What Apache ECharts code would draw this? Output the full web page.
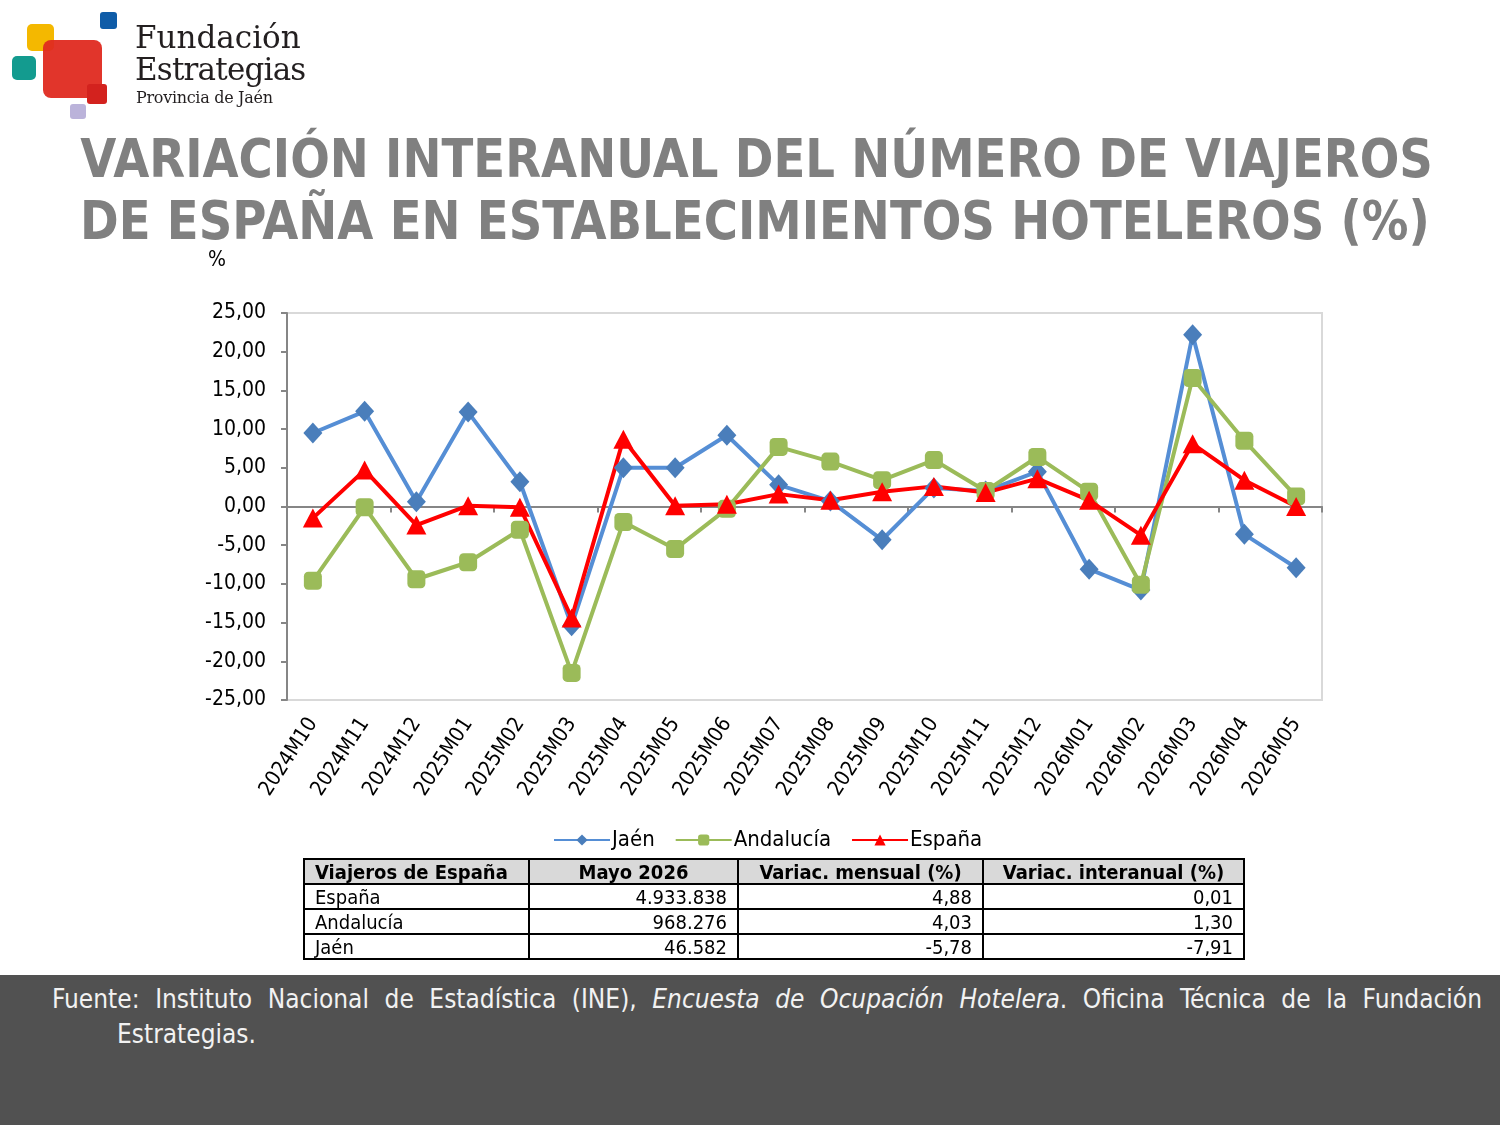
<!DOCTYPE html>
<html>
<head>
<meta charset="utf-8">
<script src="https://cdn.jsdelivr.net/npm/echarts@6/dist/echarts.min.js"></script>
<style>
  html, body { margin: 0; padding: 0; background: #fff; }
  body { width: 1500px; height: 1125px; position: relative; overflow: hidden; font-family: "DejaVu Sans Condensed", "Liberation Sans", sans-serif; }
  #chart { position: absolute; left: 0; top: 0; width: 1500px; height: 870px; }
  .sq { position: absolute; border-radius: 5px; }
  .logo-t { position: absolute; font-family: "DejaVu Serif", "Liberation Serif", serif; color: #231f20; white-space: nowrap; }
  #title { position: absolute; left: -12px; top: 128px; width: 1512px; text-align: center; font-family: "DejaVu Sans", Verdana, sans-serif; font-weight: bold; font-size: 53px; line-height: 62px; color: #808080; }
  #title span { display: inline-block; transform: scaleX(0.88); transform-origin: center; white-space: nowrap; }
  #pct { position: absolute; left: 208px; top: 247px; font-size: 21px; color: #000; }
  #tbl { position: absolute; left: 303px; top: 858px; border-collapse: collapse; font-size: 20px; table-layout: fixed; width: 940px; }
  #tbl td, #tbl th { border: 2px solid #000; padding: 0 10px; height: 23px; line-height: 22px; white-space: nowrap; overflow: hidden; }
  #tbl th { background: #d9d9d9; font-weight: bold; }
  #tbl td.n { text-align: right; }
  #foot { position: absolute; left: 0; top: 975px; width: 1500px; height: 150px; background: #515151; color: #f2f2f2; font-size: 26px; }
  #foot .l1 { position: absolute; left: 52px; width: 1430px; top: 9px; text-align: justify; text-align-last: justify; white-space: nowrap; }
  #foot .l2 { position: absolute; left: 117px; top: 44px; }
</style>
</head>
<body>
<div id="chart"></div>

<!-- logo -->
<div class="sq" style="left:100px;top:12px;width:17px;height:17px;background:#0f5ca8;border-radius:3px"></div>
<div class="sq" style="left:27px;top:24px;width:27px;height:27px;background:#f4b800"></div>
<div class="sq" style="left:12px;top:56px;width:24px;height:24px;background:#139b8f"></div>
<div class="sq" style="left:43px;top:40px;width:59px;height:58px;background:#df2a20;opacity:0.95;border-radius:8px"></div>
<div class="sq" style="left:87px;top:84px;width:20px;height:20px;background:#d3221e;border-radius:3px"></div>
<div class="sq" style="left:70px;top:104px;width:16px;height:15px;background:#bbb3da;border-radius:3px"></div>
<div class="logo-t" style="left:135px;top:19px;font-size:31px">Fundación</div>
<div class="logo-t" style="left:135px;top:51px;font-size:31px;letter-spacing:-0.8px">Estrategias</div>
<div class="logo-t" style="left:136px;top:88px;font-size:16px;letter-spacing:-0.3px">Provincia de Jaén</div>

<div id="title"><span>VARIACIÓN INTERANUAL DEL NÚMERO DE VIAJEROS</span><br><span>DE ESPAÑA EN ESTABLECIMIENTOS HOTELEROS (%)</span></div>
<div id="pct">%</div>

<table id="tbl">
  <colgroup><col style="width:225px"><col style="width:209px"><col style="width:245px"><col style="width:261px"></colgroup>
  <tr><th style="text-align:left">Viajeros de España</th><th>Mayo 2026</th><th>Variac. mensual (%)</th><th>Variac. interanual (%)</th></tr>
  <tr><td>España</td><td class="n">4.933.838</td><td class="n">4,88</td><td class="n">0,01</td></tr>
  <tr><td>Andalucía</td><td class="n">968.276</td><td class="n">4,03</td><td class="n">1,30</td></tr>
  <tr><td>Jaén</td><td class="n">46.582</td><td class="n">-5,78</td><td class="n">-7,91</td></tr>
</table>

<div id="foot">
  <div class="l1">Fuente: Instituto Nacional de Estadística (INE), <i>Encuesta de Ocupación Hotelera</i>. Oficina Técnica de la Fundación</div>
  <div class="l2">Estrategias.</div>
</div>

<script>
var months = ['2024M10', '2024M11', '2024M12', '2025M01', '2025M02', '2025M03', '2025M04',
    '2025M05', '2025M06', '2025M07', '2025M08', '2025M09', '2025M10', '2025M11', '2025M12',
    '2026M01', '2026M02', '2026M03', '2026M04', '2026M05'];
var jaen = [9.5, 12.3, 0.6, 12.2, 3.2, -15.4, 5.0, 5.0, 9.2, 2.8, 0.7, -4.3, 2.4, 2.0, 4.5, -8.1, -10.8, 22.2, -3.6, -7.91];
var andalucia = [-9.6, -0.1, -9.4, -7.2, -3.0, -21.5, -2.0, -5.5, -0.3, 7.7, 5.8, 3.4, 6.0, 2.0, 6.4, 1.9, -10.1, 16.6, 8.5, 1.30];
var espana = [-1.5, 4.7, -2.4, 0.1, -0.1, -14.4, 8.7, 0.1, 0.3, 1.6, 0.8, 1.9, 2.6, 1.8, 3.6, 0.8, -3.7, 8.1, 3.4, 0.01];
var yTicks = { min: -25, max: 25, step: 5 };

var fmt = function (v) {
    return v.toFixed(2).replace('.', ',');
};
var axisGray = '#868686';
var font = '"DejaVu Sans Condensed", "Liberation Sans", sans-serif';

var myChart = echarts.init(document.getElementById('chart'));
var options = {
    animation: false,
    textStyle: { fontFamily: font },
    grid: {
        left: 287, top: 313, width: 1035, height: 387,
        show: true, borderColor: '#d9d9d9', borderWidth: 2,
        outerBoundsMode: 'none'
    },
    legend: {
        data: ['Jaén', 'Andalucía', 'España'],
        left: 553, top: 829,
        itemWidth: 56, itemHeight: 14, itemGap: 20, padding: 0,
        textStyle: { fontSize: 22, color: '#000', fontFamily: font, padding: [0, 0, 0, -3] }
    },
    xAxis: [{
        // line at zero with the tick marks
        type: 'category',
        position: 'top',
        data: months,
        axisLine: { onZero: true, lineStyle: { color: axisGray, width: 2 } },
        axisTick: { show: true, inside: true, length: 6, lineStyle: { color: axisGray, width: 2 } },
        axisLabel: { show: false },
        splitLine: { show: false }
    }, {
        // labels at the bottom
        type: 'category',
        position: 'bottom',
        data: months,
        axisLine: { show: false, onZero: false },
        axisTick: { show: false },
        axisLabel: { rotate: 57, fontSize: 21, color: '#000', margin: 20, interval: 0, fontFamily: font },
        splitLine: { show: false }
    }],
    yAxis: {
        type: 'value',
        min: yTicks.min, max: yTicks.max, interval: yTicks.step,
        axisLine: { show: true, lineStyle: { color: axisGray, width: 2 } },
        axisTick: { show: true, length: 6, lineStyle: { color: axisGray, width: 2 } },
        axisLabel: { formatter: fmt, fontSize: 21, color: '#000', margin: 21, fontFamily: font },
        splitLine: { show: false }
    },
    series: [{
        name: 'Jaén', type: 'line', data: jaen,
        symbol: 'diamond', symbolSize: [19, 21],
        color: '#558ed5',
        lineStyle: { width: 4, color: '#558ed5' },
        itemStyle: { color: '#4a7ebb' }
    }, {
        name: 'Andalucía', type: 'line', data: andalucia,
        symbol: 'roundRect', symbolSize: 18,
        color: '#9bbb59',
        lineStyle: { width: 4, color: '#9bbb59' },
        itemStyle: { color: '#9bbb59' }
    }, {
        name: 'España', type: 'line', data: espana,
        symbol: 'triangle', symbolSize: [20, 19],
        color: '#ff0000',
        lineStyle: { width: 4, color: '#ff0000' },
        itemStyle: { color: '#ff0000' }
    }]
};
myChart.setOption(options);
</script>
</body>
</html>
